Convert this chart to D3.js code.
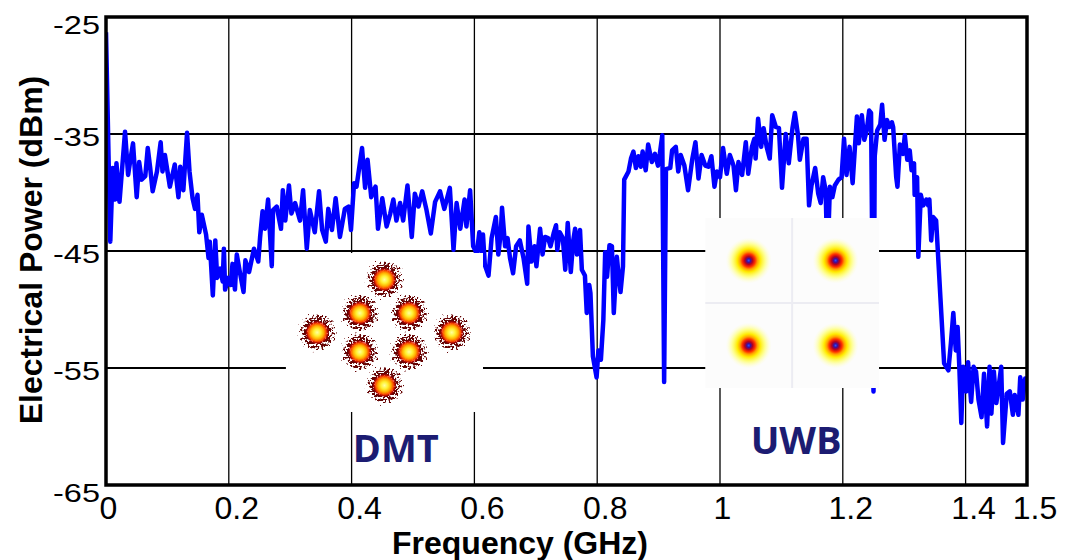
<!DOCTYPE html>
<html>
<head>
<meta charset="utf-8">
<script src="https://cdn.jsdelivr.net/npm/d3@7"></script>
<style>
  body { margin: 0; background: #fff; }
  svg { display: block; font-family: "Liberation Sans", Arial, sans-serif; }
</style>
</head>
<body>
<svg id="chart" width="1075" height="560"></svg>
<script>
// measured spectrum: [frequency GHz, power dBm]
const spectrum = [
  [0.000,-26.3],[0.007,-44.2],[0.011,-37.9],[0.015,-40.6],[0.017,-37.5],[0.022,-40.8],[0.031,-34.8],[0.036,-38.5],
  [0.040,-37.1],[0.044,-35.8],[0.050,-40.4],[0.054,-37.4],[0.058,-38.9],[0.064,-38.6],[0.068,-36.2],[0.072,-37.9],
  [0.076,-39.9],[0.083,-38.2],[0.089,-35.7],[0.092,-38.2],[0.096,-36.8],[0.104,-39.5],[0.112,-37.6],[0.118,-40.4],
  [0.121,-37.8],[0.126,-39.8],[0.132,-34.9],[0.136,-38.2],[0.141,-40.5],[0.145,-41.4],[0.149,-40.2],[0.152,-43.4],
  [0.156,-41.9],[0.163,-43.6],[0.167,-45.6],[0.169,-44.2],[0.174,-48.8],[0.178,-44.1],[0.181,-47.3],[0.186,-46.5],
  [0.190,-47.6],[0.192,-44.8],[0.194,-48.3],[0.199,-47.3],[0.203,-47.9],[0.206,-46.1],[0.210,-48.3],[0.213,-45.3],
  [0.218,-46.8],[0.224,-48.5],[0.227,-45.8],[0.233,-46.8],[0.241,-44.8],[0.248,-45.9],[0.251,-43.8],[0.255,-41.6],
  [0.259,-43.1],[0.264,-40.6],[0.270,-46.3],[0.272,-41.5],[0.278,-41.2],[0.285,-43.1],[0.288,-39.8],[0.292,-42.4],
  [0.298,-39.4],[0.302,-41.8],[0.308,-40.9],[0.316,-42.4],[0.321,-39.8],[0.327,-44.8],[0.332,-41.5],[0.340,-43.4],
  [0.347,-39.9],[0.352,-43.2],[0.358,-44.2],[0.362,-41.4],[0.368,-43.2],[0.374,-40.5],[0.381,-43.8],[0.389,-41.4],
  [0.395,-41.2],[0.399,-43.2],[0.404,-39.2],[0.408,-39.5],[0.417,-36.2],[0.422,-39.6],[0.426,-37.2],[0.432,-40.4],
  [0.435,-39.9],[0.439,-39.5],[0.443,-43.1],[0.450,-40.5],[0.457,-42.9],[0.463,-41.8],[0.468,-40.6],[0.473,-42.4],
  [0.479,-40.9],[0.484,-42.4],[0.491,-39.4],[0.498,-43.8],[0.503,-40.1],[0.509,-41.2],[0.515,-39.9],[0.522,-41.5],
  [0.529,-43.5],[0.536,-40.8],[0.544,-39.9],[0.551,-41.4],[0.560,-39.6],[0.566,-44.9],[0.571,-40.9],[0.577,-43.1],
  [0.584,-40.6],[0.587,-42.9],[0.593,-39.8],[0.598,-44.6],[0.604,-45.2],[0.608,-43.4],[0.612,-45.2],[0.614,-43.6],
  [0.617,-46.2],[0.623,-47.1],[0.628,-43.9],[0.635,-42.1],[0.639,-45.3],[0.643,-43.4],[0.645,-41.3],[0.650,-44.6],
  [0.654,-43.9],[0.658,-45.6],[0.663,-46.9],[0.668,-44.6],[0.674,-44.1],[0.680,-45.6],[0.686,-47.8],[0.688,-42.9],
  [0.693,-45.9],[0.698,-44.6],[0.701,-46.3],[0.707,-43.1],[0.711,-45.3],[0.715,-43.8],[0.720,-43.9],[0.724,-44.6],
  [0.729,-43.5],[0.733,-42.8],[0.735,-44.9],[0.739,-43.4],[0.744,-43.9],[0.748,-46.6],[0.752,-42.6],[0.757,-46.8],
  [0.761,-44.1],[0.764,-43.1],[0.767,-45.3],[0.772,-43.2],[0.775,-46.6],[0.780,-47.1],[0.783,-50.3],[0.787,-47.9],
  [0.789,-48.6],[0.793,-54.0],[0.796,-54.9],[0.799,-55.8],[0.802,-53.5],[0.806,-54.3],[0.810,-50.9],[0.813,-45.1],
  [0.816,-47.2],[0.820,-44.5],[0.824,-44.6],[0.827,-50.3],[0.832,-45.5],[0.834,-46.6],[0.838,-48.5],[0.842,-46.3],
  [0.844,-38.9],[0.851,-38.2],[0.855,-37.1],[0.859,-36.5],[0.863,-37.9],[0.867,-36.9],[0.871,-37.8],[0.874,-36.5],
  [0.879,-38.1],[0.883,-35.9],[0.889,-37.4],[0.894,-36.7],[0.899,-37.7],[0.902,-36.7],[0.906,-35.1],[0.909,-56.2],
  [0.912,-38.0],[0.919,-37.9],[0.922,-36.4],[0.928,-36.1],[0.932,-38.2],[0.936,-36.8],[0.942,-37.7],[0.948,-39.8],
  [0.955,-37.1],[0.960,-35.7],[0.965,-38.8],[0.970,-36.8],[0.976,-37.7],[0.981,-37.8],[0.986,-36.9],[0.991,-39.5],
  [0.995,-38.2],[1.000,-38.7],[1.005,-36.2],[1.011,-38.4],[1.016,-36.8],[1.022,-37.7],[1.026,-39.8],[1.030,-37.4],
  [1.036,-38.5],[1.042,-35.7],[1.046,-38.4],[1.052,-36.1],[1.056,-35.4],[1.058,-37.1],[1.062,-33.7],[1.067,-36.1],
  [1.071,-34.5],[1.076,-36.1],[1.081,-37.1],[1.085,-33.4],[1.091,-34.4],[1.096,-34.5],[1.101,-39.6],[1.107,-35.0],
  [1.112,-37.5],[1.118,-34.5],[1.122,-33.2],[1.127,-35.1],[1.130,-37.2],[1.136,-35.4],[1.141,-35.4],[1.145,-41.1],
  [1.149,-39.4],[1.155,-37.9],[1.160,-40.1],[1.164,-40.9],[1.168,-38.7],[1.172,-39.8],[1.175,-46.0],[1.179,-39.5],
  [1.183,-40.4],[1.187,-39.4],[1.193,-38.9],[1.198,-38.7],[1.202,-35.4],[1.206,-38.5],[1.211,-36.1],[1.216,-39.2],
  [1.223,-33.5],[1.226,-35.8],[1.231,-33.4],[1.235,-35.5],[1.239,-34.7],[1.243,-33.0],[1.246,-33.2],[1.250,-57.0],
  [1.252,-36.9],[1.256,-34.7],[1.261,-34.2],[1.264,-32.5],[1.268,-35.5],[1.272,-33.8],[1.276,-34.4],[1.280,-34.0],
  [1.282,-34.4],[1.287,-38.7],[1.289,-39.5],[1.293,-35.9],[1.298,-36.7],[1.301,-35.1],[1.305,-37.2],[1.309,-36.4],
  [1.312,-38.1],[1.316,-37.5],[1.317,-40.2],[1.321,-38.7],[1.323,-45.5],[1.327,-40.2],[1.331,-41.1],[1.336,-40.6],
  [1.339,-41.1],[1.341,-40.6],[1.344,-44.1],[1.347,-42.1],[1.352,-42.4],[1.355,-45.2],[1.359,-49.0],[1.365,-54.6],
  [1.372,-55.2],[1.376,-52.9],[1.380,-50.3],[1.384,-53.5],[1.387,-51.5],[1.390,-55.2],[1.393,-59.7],[1.396,-54.9],
  [1.401,-57.0],[1.404,-54.5],[1.409,-57.9],[1.413,-54.9],[1.417,-55.3],[1.421,-57.7],[1.426,-59.2],[1.430,-55.5],
  [1.435,-60.0],[1.439,-54.9],[1.442,-58.9],[1.446,-55.3],[1.450,-58.0],[1.453,-56.9],[1.458,-54.9],[1.461,-61.4],
  [1.467,-57.2],[1.472,-57.0],[1.477,-59.0],[1.480,-57.3],[1.486,-59.0],[1.489,-55.8],[1.493,-57.7],[1.497,-55.9],
  [1.500,-56.2]
];

const xTicks = [0, 0.2, 0.4, 0.6, 0.8, 1.0, 1.2, 1.4, 1.5];
const xTickLabels = ["0", "0.2", "0.4", "0.6", "0.8", "1", "1.2", "1.4", "1.5"];
const yTicks = [-25, -35, -45, -55, -65];
const xGrid = [0.2, 0.4, 0.6, 0.8, 1.0, 1.2, 1.4];
const yGrid = [-35, -45, -55];

// constellation points (I, Q)
const dmtI = [0, -1, 1, -2.73, 2.73, -1, 1, 0];
const dmtQ = [2.73, 1, 1, 0, 0, -1, -1, -2.73];
const uwbI = [-1, 1, -1, 1];
const uwbQ = [1, 1, -1, -1];

const svg = d3.select("#chart");
const x = d3.scaleLinear().domain([0, 1.5]).range([106, 1027]);
const y = d3.scaleLinear().domain([-65, -25]).range([485, 17]);

const defs = svg.append("defs");
defs.append("clipPath").attr("id", "plotClip")
  .append("rect").attr("x", 106).attr("y", 17).attr("width", 921).attr("height", 468);

// speckle for the DMT clusters
const f = defs.append("filter").attr("id", "speck")
  .attr("color-interpolation-filters", "sRGB")
  .attr("x", "-10%").attr("y", "-10%").attr("width", "120%").attr("height", "120%");
f.append("feTurbulence").attr("type", "fractalNoise").attr("baseFrequency", 0.42)
  .attr("numOctaves", 2).attr("seed", 7).attr("result", "noise");
f.append("feColorMatrix").attr("in", "noise").attr("type", "matrix")
  .attr("values", "0 0 0 0 0  0 0 0 0 0  0 0 0 0 0  1 0 0 0 0").attr("result", "na");
f.append("feComposite").attr("in", "na").attr("in2", "SourceGraphic").attr("operator", "in").attr("result", "m");
f.append("feColorMatrix").attr("in", "m").attr("type", "matrix")
  .attr("values", "0 0 0 0 0.40  0 0 0 0 0.02  0 0 0 0 0.02  0 0 0 18 -7.2");

function radial(id, stops) {
  const g = defs.append("radialGradient").attr("id", id);
  stops.forEach(s => g.append("stop").attr("offset", s[0]).attr("stop-color", s[1]).attr("stop-opacity", s[2]));
}
radial("fade", [[0, "#fff", 1], [0.55, "#fff", 1], [1, "#fff", 0.45]]);
radial("dmtCore", [[0, "#ffffa0", 1], [0.3, "#fff030", 1], [0.55, "#ffae00", 1], [0.75, "#ff4a00", 0.95], [0.9, "#d00000", 0.55], [1, "#900000", 0]]);
radial("uwbCore", [[0, "#2a50ff", 1], [0.08, "#3a10a0", 1], [0.17, "#b00020", 1], [0.28, "#ff3000", 1],
  [0.38, "#ffa000", 1], [0.5, "#ffea00", 1], [0.7, "#ffff60", 0.75], [1, "#ffffd0", 0]]);

// grid
svg.append("g").selectAll("line").data(xGrid).join("line")
  .attr("x1", d => x(d)).attr("x2", d => x(d)).attr("y1", y(-25)).attr("y2", y(-65))
  .attr("stroke", "#000").attr("stroke-width", 1.3);
svg.append("g").selectAll("line").data(yGrid).join("line")
  .attr("x1", x(0)).attr("x2", x(1.5)).attr("y1", d => y(d)).attr("y2", d => y(d))
  .attr("stroke", "#000").attr("stroke-width", 2);

// spectrum
const line = d3.line().x(d => x(d[0])).y(d => y(d[1]));
svg.append("path").datum(spectrum)
  .attr("clip-path", "url(#plotClip)")
  .attr("d", line)
  .attr("fill", "none").attr("stroke", "#0000ff").attr("stroke-width", 4.5)
  .attr("stroke-linejoin", "round");

// inset constellations
const dmtBox = { f: [0.293, 0.614], p: [-45.17, -58.76] };
const uwbBox = { f: [0.976, 1.259], p: [-42.18, -56.71] };

function insetRect(b, fill) {
  svg.append("rect")
    .attr("x", x(b.f[0])).attr("y", y(b.p[0]))
    .attr("width", x(b.f[1]) - x(b.f[0])).attr("height", y(b.p[1]) - y(b.p[0]))
    .attr("fill", fill);
}
insetRect(dmtBox, "#fff");
insetRect(uwbBox, "#fcfcfc");

const di = d3.scaleLinear().domain([-4, 4]).range([x(dmtBox.f[0]), x(dmtBox.f[1])]);
const dq = d3.scaleLinear().domain([-4.1, 4.1]).range([y(dmtBox.p[1]), y(dmtBox.p[0])]);
const dmt = svg.append("g").selectAll("g").data(dmtI).join("g")
  .attr("transform", (d, i) => `translate(${di(d)},${dq(dmtQ[i])})`);
dmt.append("circle").attr("r", 22).attr("fill", "url(#fade)").attr("filter", "url(#speck)");
dmt.append("circle").attr("r", 12).attr("fill", "url(#dmtCore)");

const ui = d3.scaleLinear().domain([-2, 2]).range([x(uwbBox.f[0]), x(uwbBox.f[1])]);
const uq = d3.scaleLinear().domain([-2, 2]).range([y(uwbBox.p[1]), y(uwbBox.p[0])]);
svg.append("line").attr("x1", ui(0)).attr("x2", ui(0)).attr("y1", uq(2)).attr("y2", uq(-2))
  .attr("stroke", "#ececf2").attr("stroke-width", 2);
svg.append("line").attr("x1", ui(-2)).attr("x2", ui(2)).attr("y1", uq(0)).attr("y2", uq(0))
  .attr("stroke", "#ececf2").attr("stroke-width", 2);
svg.append("g").selectAll("circle").data(uwbI).join("circle")
  .attr("cx", d => ui(d)).attr("cy", (d, i) => uq(uwbQ[i]))
  .attr("r", 23).attr("fill", "url(#uwbCore)");

// inset labels
const insetLabels = [{ text: "DMT", f: 0.472, p: -63.03 }, { text: "UWB", f: 1.124, p: -62.35 }];
svg.append("g").selectAll("text").data(insetLabels).join("text")
  .attr("x", d => x(d.f)).attr("y", d => y(d.p))
  .attr("text-anchor", "middle")
  .style("font-family", "'Open Sans', sans-serif").style("font-weight", 700).style("font-size", "38px")
  .attr("fill", "#1c1c72")
  .text(d => d.text);

// frame
svg.append("rect").attr("x", 106).attr("y", 17).attr("width", 921).attr("height", 468)
  .attr("fill", "none").attr("stroke", "#000").attr("stroke-width", 3.5);

// tick labels
svg.append("g").selectAll("text").data(xTicks).join("text")
  .attr("x", (d, i) => x(d) + (xTickLabels[i].length > 1 ? 8 : 2.5))
  .attr("y", 519)
  .attr("text-anchor", "middle").style("font-size", "32px").attr("fill", "#000")
  .text((d, i) => xTickLabels[i]);

svg.append("g").selectAll("text").data(yTicks).join("text")
  .attr("transform", (d, i) => {
    const off = (i === 0 || i === yTicks.length - 1) ? 17 : 12;
    return `translate(100,${y(d) + off}) scale(1.3,1)`;
  })
  .attr("text-anchor", "end").style("font-size", "25px").attr("fill", "#000")
  .text(d => d);

// axis titles
svg.append("text").attr("x", 520).attr("y", 554).attr("text-anchor", "middle")
  .style("font-size", "32px").style("font-weight", "bold").text("Frequency (GHz)");
svg.append("text").attr("transform", "translate(42,250) rotate(-90)").attr("text-anchor", "middle")
  .style("font-size", "32px").style("font-weight", "bold").text("Electrical Power (dBm)");
</script>
</body>
</html>
